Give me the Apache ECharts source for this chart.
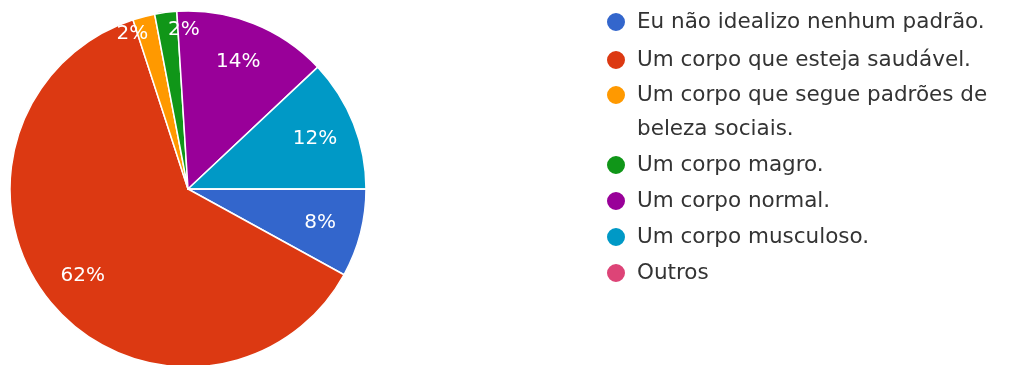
<!DOCTYPE html>
<html>
<head>
<meta charset="utf-8">
<script src="https://cdn.jsdelivr.net/npm/echarts@6/dist/echarts.min.js"></script>
<style>
  html, body { margin: 0; padding: 0; background: #ffffff; }
  #chart { width: 1009px; height: 365px; }
</style>
</head>
<body>
<div id="chart"></div>
<script>
// Answers to "which body do you idealize?" (share of respondents, %)
const categories = [
  'Eu não idealizo nenhum padrão.',
  'Um corpo que esteja saudável.',
  'Um corpo que segue padrões de beleza sociais.',
  'Um corpo magro.',
  'Um corpo normal.',
  'Um corpo musculoso.',
  'Outros'
];
const shares = [8, 62, 2, 2, 14, 12, 0];
const palette = ['#3366cc', '#dc3912', '#ff9900', '#109618', '#990099', '#0099c6', '#dd4477'];

const FONT = 'DejaVu Sans';
const CENTER = [188, 189];
const R = 178;
const SMALL = 5; // slices below this share get their label near the rim

const chart = echarts.init(document.getElementById('chart'), null, { renderer: 'canvas' });

const baseSeries = {
  type: 'pie',
  center: CENTER,
  startAngle: 0,
  clockwise: true,
  animation: false,
  emphasis: { disabled: true },
  labelLine: { show: false }
};

// small neighbouring labels are pushed apart from each other
const isSmall = i => shares[i] > 0 && shares[i] < SMALL;
function smallAlign(i) {
  if (isSmall(i + 1)) return 'right';
  if (isSmall(i - 1)) return 'left';
  return 'center';
}

const pieData = categories.map((name, i) => ({ name, value: shares[i] }));

const valueLabel = {
  position: 'inside',
  formatter: '{c}%',
  color: '#ffffff',
  fontFamily: FONT,
  fontSize: 20
};

const legendCommon = {
  orient: 'vertical',
  left: 605,
  padding: 0,
  icon: 'circle',
  itemWidth: 32,
  itemHeight: 20,
  selectedMode: false,
  textStyle: {
    fontFamily: FONT,
    fontSize: 21.5,
    color: '#333333',
    lineHeight: 34,
    width: 400,
    overflow: 'break'
  }
};

const wrappedName = categories[2];

chart.setOption({
  color: palette,
  backgroundColor: '#ffffff',
  animation: false,
  legend: [
    Object.assign({}, legendCommon, {
      top: 5,
      itemGap: 4,
      data: categories.slice(0, 2)
    }),
    Object.assign({}, legendCommon, {
      top: 44,
      itemGap: 2,
      data: categories.slice(2),
      // an empty leading line keeps the marker beside the first text line
      formatter: name => (name === wrappedName ? '\n' + name : name)
    })
  ],
  series: [
    Object.assign({}, baseSeries, {
      name: 'main',
      radius: R,
      label: { show: false },
      itemStyle: { borderColor: '#ffffff', borderWidth: 1.5 },
      data: pieData
    }),
    Object.assign({}, baseSeries, {
      name: 'labels',
      silent: true,
      radius: [R / 2, R],
      itemStyle: { color: 'rgba(0,0,0,0)', borderWidth: 0 },
      label: valueLabel,
      data: pieData.map((d, i) => Object.assign({}, d, { label: { show: shares[i] >= SMALL } }))
    }),
    Object.assign({}, baseSeries, {
      name: 'rimLabels',
      silent: true,
      radius: [R * 0.765, R],
      itemStyle: { color: 'rgba(0,0,0,0)', borderWidth: 0 },
      label: valueLabel,
      labelLayout: p => ({ align: smallAlign(p.dataIndex) }),
      data: pieData.map((d, i) => Object.assign({}, d, { label: { show: isSmall(i) } }))
    })
  ]
});
</script>
</body>
</html>
